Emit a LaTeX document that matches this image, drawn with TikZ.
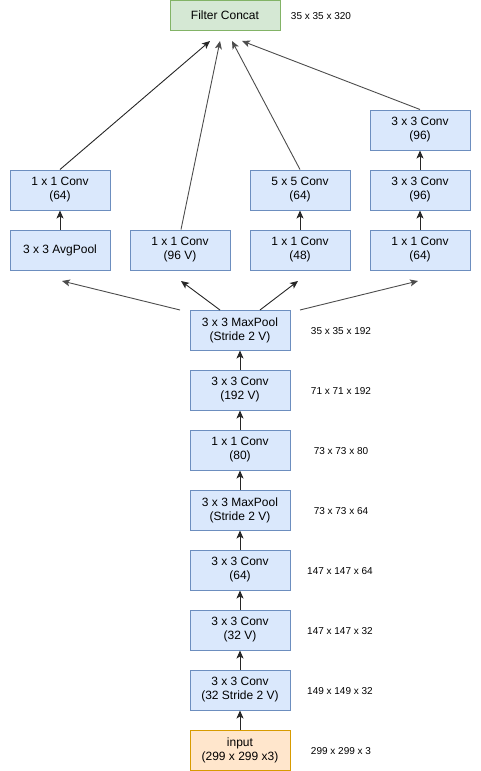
\documentclass[tikz,border=0pt]{standalone}
\usepackage{fontspec}
\setmainfont{Liberation Sans}
\usetikzlibrary{arrows.meta,calc}
\definecolor{bfill}{HTML}{DAE8FC}
\definecolor{bdraw}{HTML}{6C8EBF}
\definecolor{gfill}{HTML}{D5E8D4}
\definecolor{gdraw}{HTML}{82B366}
\definecolor{ofill}{HTML}{FFE6CC}
\definecolor{odraw}{HTML}{D79B00}
\tikzset{
  layer/.style={draw=bdraw, fill=bfill, line width=1pt, minimum width=100pt, minimum height=40pt,
    inner sep=0pt, align=center, font=\fontsize{12}{14}\selectfont},
  concat/.style={layer, draw=gdraw, fill=gfill, minimum width=110pt, minimum height=30pt},
  inbox/.style={layer, draw=odraw, fill=ofill},
  dimlabel/.style={font=\fontsize{10}{12}\selectfont, inner sep=0pt},
  conn/.style={line width=0.9pt, draw=black!85, -{Stealth[length=8pt,width=7pt,inset=2pt]}}
}
\begin{document}
\begin{tikzpicture}[x=1pt,y=-1pt]
\useasboundingbox (0,0) rectangle (481,771);
% top
\node[concat] (fc) at (225,15) {Filter Concat};
\node[dimlabel] (lfc) at (321,16) {35 x 35 x 320};
% branches
\node[layer] (r1d) at (420,130) {3 x 3 Conv\\(96)};
\node[layer] (r2a) at (60,190) {1 x 1 Conv\\(64)};
\node[layer] (r2c) at (300,190) {5 x 5 Conv\\(64)};
\node[layer] (r2d) at (420,190) {3 x 3 Conv\\(96)};
\node[layer] (r3a) at (60,250) {3 x 3 AvgPool};
\node[layer] (r3b) at (180,250) {1 x 1 Conv\\(96 V)};
\node[layer] (r3c) at (300,250) {1 x 1 Conv\\(48)};
\node[layer] (r3d) at (420,250) {1 x 1 Conv\\(64)};
% stem
\node[layer] (mp2) at (240,330) {3 x 3 MaxPool\\(Stride 2 V)};
\node[layer] (c192) at (240,390) {3 x 3 Conv\\(192 V)};
\node[layer] (c80) at (240,450) {1 x 1 Conv\\(80)};
\node[layer] (mp1) at (240,510) {3 x 3 MaxPool\\(Stride 2 V)};
\node[layer] (c64) at (240,570) {3 x 3 Conv\\(64)};
\node[layer] (c32) at (240,630) {3 x 3 Conv\\(32 V)};
\node[layer] (c32s) at (240,690) {3 x 3 Conv\\(32 Stride 2 V)};
\node[inbox] (in) at (240,750) {input\\(299 x 299 x3)};
% dimension labels
\node[dimlabel] (l1) at (341,331) {35 x 35 x 192};
\node[dimlabel] (l2) at (341,391) {71 x 71 x 192};
\node[dimlabel] (l3) at (341,451) {73 x 73 x 80};
\node[dimlabel] (l4) at (341,511) {73 x 73 x 64};
\node[dimlabel] (l5) at (340,571) {147 x 147 x 64};
\node[dimlabel] (l6) at (340,631) {147 x 147 x 32};
\node[dimlabel] (l7) at (340,691) {149 x 149 x 32};
\node[dimlabel] (l8) at (341,751) {299 x 299 x 3};
% coordinates
\coordinate (t1) at (210,41);
\coordinate (t2) at (220,41);
\coordinate (t3) at (232,41);
\coordinate (t4) at (242,41);
\coordinate (b1) at (62,281);
\coordinate (b2) at (181,281);
\coordinate (b3) at (298,281);
\coordinate (b4) at (418,281);
\coordinate (s1) at (180,310);
\coordinate (s2) at (220,310);
\coordinate (s3) at (260,310);
\coordinate (s4) at (300,310);
% stem arrows
\draw[conn] (in.north) -- (c32s.south);
\draw[conn] (c32s.north) -- (c32.south);
\draw[conn] (c32.north) -- (c64.south);
\draw[conn] (c64.north) -- (mp1.south);
\draw[conn] (mp1.north) -- (c80.south);
\draw[conn] (c80.north) -- (c192.south);
\draw[conn] (c192.north) -- (mp2.south);
% fan out
\draw[conn, draw=black!70] (s1) -- (b1);
\draw[conn] (s2) -- (b2);
\draw[conn] (s3) -- (b3);
\draw[conn, draw=black!70] (s4) -- (b4);
% branch arrows
\draw[conn] (r3a.north) -- (r2a.south);
\draw[conn] (r3c.north) -- (r2c.south);
\draw[conn] (r3d.north) -- (r2d.south);
\draw[conn] (r2d.north) -- (r1d.south);
% to concat
\draw[conn] (r2a.north) -- (t1);
\draw[conn, draw=black!70] ($(r3b.north)+(1,0)$) -- (t2);
\draw[conn, draw=black!70] (r2c.north) -- (t3);
\draw[conn, draw=black!70] (r1d.north) -- (t4);
\end{tikzpicture}
\end{document}
